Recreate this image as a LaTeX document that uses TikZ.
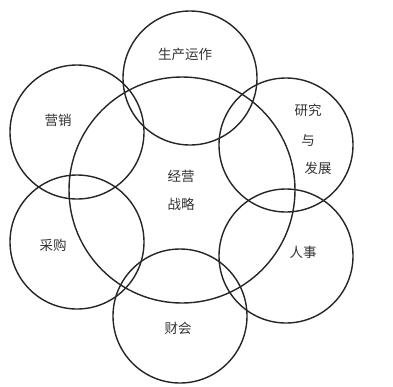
\documentclass[tikz,border=0pt]{standalone}
\usepackage{fontspec}
\newfontfamily\cjk{Noto Sans CJK SC}
\begin{document}
\begin{tikzpicture}[x=1pt,y=-1pt,
  ring/.style={draw=black!85,line width=1.4pt},
  lbl/.style={font=\cjk\fontsize{13.5}{16}\selectfont,text=black!80,inner sep=0pt,align=center}]
\useasboundingbox (0,0) rectangle (393,386);
\fill[white] (0,0) rectangle (393,386);
% circles
\node[ring,circle,minimum size=226pt,inner sep=0pt] (core) at (182,190) {};
\node[ring,circle,minimum size=134pt,inner sep=0pt] (prod) at (190,78) {};
\node[ring,circle,minimum size=134pt,inner sep=0pt] (rd) at (286,145) {};
\node[ring,circle,minimum size=134pt,inner sep=0pt] (hr) at (286,256) {};
\node[ring,circle,minimum size=134pt,inner sep=0pt] (fin) at (180,316) {};
\node[ring,circle,minimum size=134pt,inner sep=0pt] (pur) at (77,242) {};
\node[ring,circle,minimum size=134pt,inner sep=0pt] (mkt) at (77,132) {};
% labels
\node[lbl] (tcore) at (181,190) {经营\\[12pt]战略};
\node[lbl] (tprod) at (185,54) {生产运作};
\node[lbl] (trd1) at (308,110) {研究};
\node[lbl] (trd2) at (308,140) {与};
\node[lbl] (trd3) at (318,168) {发展};
\node[lbl] (thr) at (303,252) {人事};
\node[lbl] (tfin) at (178,328) {财会};
\node[lbl] (tpur) at (53,245) {采购};
\node[lbl] (tmkt) at (58,120) {营销};
\end{tikzpicture}
\end{document}
